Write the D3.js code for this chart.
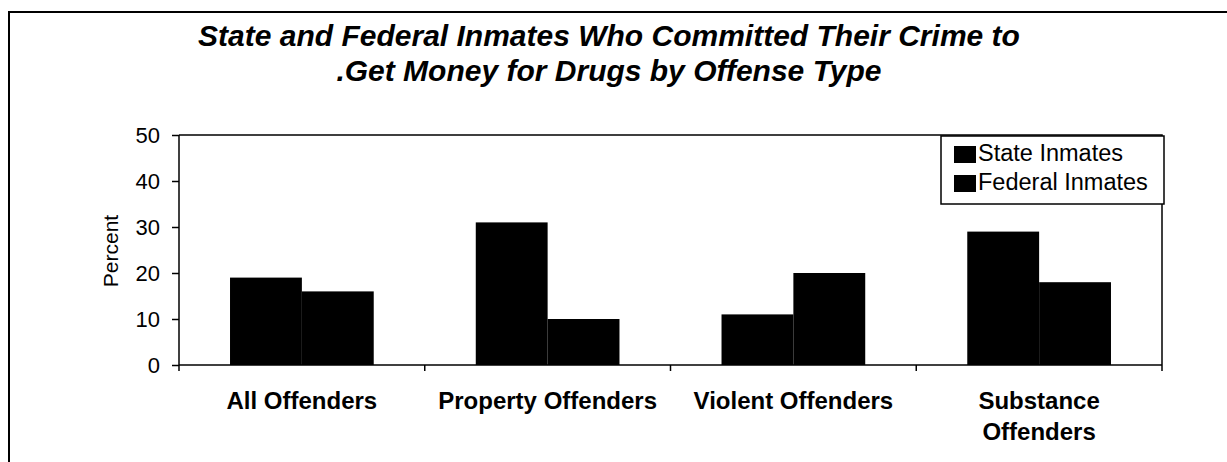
<!DOCTYPE html>
<html>
<head>
<meta charset="utf-8">
<script src="https://cdn.jsdelivr.net/npm/d3@7"></script>
<style>
  html, body { margin: 0; padding: 0; background: #fff; }
  svg { display: block; font-family: "Liberation Sans", Arial, sans-serif; }
</style>
</head>
<body>
<svg id="chart" width="1227" height="462"></svg>
<script>
// Offense categories (second line of a label after "\n")
const categories = ["All Offenders", "Property Offenders", "Violent Offenders", "Substance\nOffenders"];
const seriesNames = ["State Inmates", "Federal Inmates"];
// Percent who committed their offense to get money for drugs
const stateValues = [19, 31, 11, 29];
const federalValues = [16, 10, 20, 18];
const yTicks = [0, 10, 20, 30, 40, 50];
const titleLines = ["State and Federal Inmates Who Committed Their Crime to", ".Get Money for Drugs by Offense Type"];
const yAxisLabel = "Percent";

const rows = categories.map((c, i) => ({ category: c, values: [stateValues[i], federalValues[i]] }));

const svg = d3.select("#chart");
const plot = { left: 179, right: 1162, top: 135, bottom: 365 };

// outer frame (top and left edges)
svg.append("path")
  .attr("d", "M9,462 V12 H1227")
  .attr("fill", "none").attr("stroke", "#000").attr("stroke-width", 2);

// title
svg.append("g").selectAll("text").data(titleLines).join("text")
  .attr("x", 609).attr("y", (d, i) => 46 + i * 35)
  .attr("text-anchor", "middle")
  .attr("font-size", 30).attr("font-weight", "bold").attr("font-style", "italic")
  .text(d => d);

const x0 = d3.scaleBand().domain(categories).range([plot.left, plot.right]).paddingInner(0).paddingOuter(0);
const x1 = d3.scaleBand().domain(seriesNames).range([0, x0.bandwidth()]).paddingInner(0).paddingOuter(0.71);
const y = d3.scaleLinear().domain([0, 50]).range([plot.bottom, plot.top]);

// plot area top and right edges
svg.append("path")
  .attr("d", `M${plot.left},${plot.top} H${plot.right} V${plot.bottom + 6}`)
  .attr("fill", "none").attr("stroke", "#000").attr("stroke-width", 1.5);

// bars
svg.append("g").selectAll("g").data(rows).join("g")
  .attr("transform", d => `translate(${x0(d.category)},0)`)
  .selectAll("rect").data(d => d.values.map((v, j) => ({ key: seriesNames[j], value: v })))
  .join("rect")
  .attr("x", d => x1(d.key))
  .attr("width", x1.bandwidth())
  .attr("y", d => y(d.value))
  .attr("height", d => y(0) - y(d.value))
  .attr("fill", "#000");

// y axis
const yAxis = svg.append("g")
  .attr("transform", `translate(${plot.left},0)`)
  .call(d3.axisLeft(y).tickValues(yTicks).tickSize(7).tickPadding(12).tickSizeOuter(0));
yAxis.select(".domain").attr("stroke-width", 1.5).attr("d", `M0,${plot.top}V${plot.bottom + 6}`);
yAxis.selectAll(".tick line").attr("stroke-width", 1.5);
yAxis.selectAll(".tick text").attr("font-size", 22).attr("font-family", "Liberation Sans, Arial, sans-serif").attr("fill", "#000");

// x axis baseline with ticks between categories
const boundaries = categories.map(c => x0(c)).concat([plot.right]);
const xAxis = svg.append("g");
xAxis.append("line")
  .attr("x1", plot.left).attr("x2", plot.right)
  .attr("y1", plot.bottom).attr("y2", plot.bottom)
  .attr("stroke", "#000").attr("stroke-width", 1.5);
xAxis.selectAll("line.tk").data(boundaries.slice(1, -1)).join("line")
  .attr("class", "tk")
  .attr("x1", d => d).attr("x2", d => d)
  .attr("y1", plot.bottom).attr("y2", plot.bottom + 6)
  .attr("stroke", "#000").attr("stroke-width", 1.5);

// category labels
xAxis.selectAll("text").data(categories).join("text")
  .attr("text-anchor", "middle")
  .attr("font-size", 24).attr("font-weight", "bold")
  .each(function (d) {
    const t = d3.select(this);
    d.split("\n").forEach((line, i) => {
      t.append("tspan")
        .attr("x", x0(d) + x0.bandwidth() / 2)
        .attr("y", 409 + i * 31)
        .text(line);
    });
  });

// y axis title
svg.append("text")
  .attr("transform", "translate(118,251) rotate(-90)")
  .attr("text-anchor", "middle")
  .attr("font-size", 21)
  .text(yAxisLabel);

// legend
const legend = svg.append("g");
legend.append("rect")
  .attr("x", 941).attr("y", 136).attr("width", 223).attr("height", 68)
  .attr("fill", "#fff").attr("stroke", "#000").attr("stroke-width", 1.5);
const items = legend.selectAll("g").data(seriesNames).join("g")
  .attr("transform", (d, i) => `translate(954,${146 + i * 29})`);
items.append("rect").attr("width", 22).attr("height", 17).attr("fill", "#000");
items.append("text").attr("x", 24).attr("y", 14.5).attr("font-size", 23.5).text(d => d);
</script>
</body>
</html>
